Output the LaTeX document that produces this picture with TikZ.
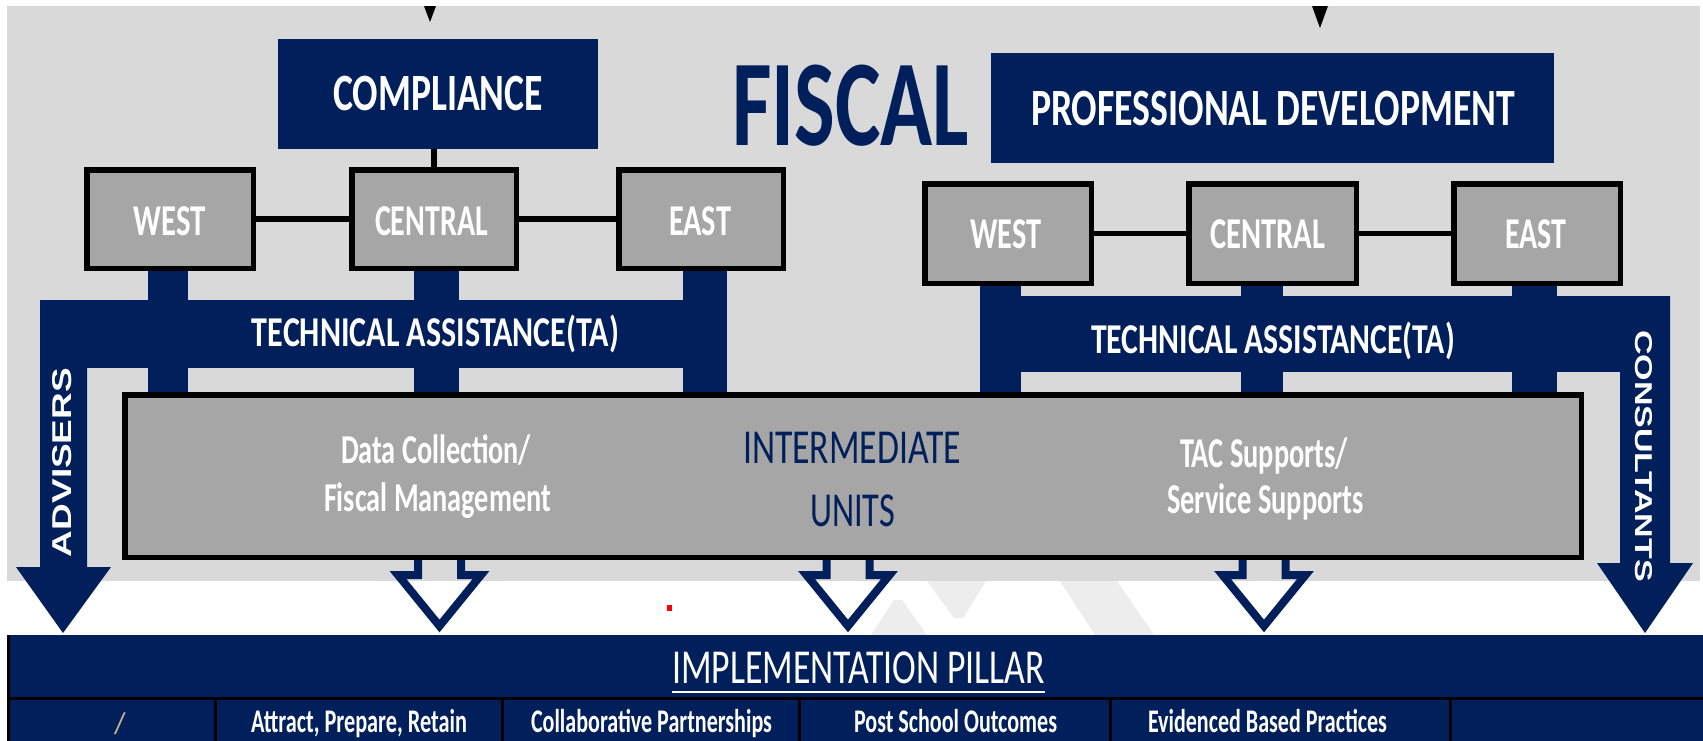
\documentclass[tikz,border=0pt]{standalone}
\usepackage{fontspec}
\setmainfont{Carlito}
\newfontfamily\lsans{Liberation Sans}
\usetikzlibrary{calc}
\definecolor{navy}{RGB}{0,31,91}
\definecolor{bggrey}{RGB}{217,217,217}
\definecolor{boxgrey}{RGB}{166,166,166}
\definecolor{wmgrey}{RGB}{237,237,237}
\definecolor{slashtan}{RGB}{200,180,140}
\newcommand\fitw[2]{\resizebox{#1pt}{\height}{#2}}
\newcommand\fsz[1]{\fontsize{#1}{#1}\selectfont}
\begin{document}
\begin{tikzpicture}[x=1pt,y=-1pt,
  navyblock/.style={fill=navy, draw=none, inner sep=0, outer sep=0},
  regionbox/.style={fill=boxgrey, draw=black, line width=5.5pt, inner sep=0},
  link/.style={draw=black, line width=5.5pt},
  stubline/.style={draw=navy, line width=#1},
  lbl/.style={inner sep=0, anchor=base},
  celltext/.style={lbl, text=white, font=\fsz{33}\bfseries},
  cellbox/.style={fill=navy, draw=black, line width=3pt, inner sep=0, outer sep=0, anchor=north west, minimum height=60pt},
  hollowarrow/.pic={\draw[navy, line width=8pt, line cap=butt, line join=miter]
     (-21.5,0) -- (-21.5,15) -- (-41.5,15) -- (0,66) -- (41.5,15) -- (21.5,15) -- (21.5,0);},
]
\useasboundingbox (0,0) rectangle (1703,740);
\fill[white] (0,0) rectangle (1703,740);
\fill[bggrey] (7,6) rectangle (1700,581);
% watermark
\fill[wmgrey] (871,635) -- (894,600) -- (902,600) -- (927,635) -- cycle;
\fill[wmgrey] (927,581) -- (986,581) -- (963,618) -- (954,618) -- cycle;
\fill[wmgrey] (1060,581) -- (1117,581) -- (1154,635) -- (1095,635) -- cycle;
\fill[red] (667,605) rectangle (672,611);
% top wedges
\fill[black] (424,6) -- (436,6) -- (430,22) -- cycle;
\fill[black] (1312,6) -- (1328,6) -- (1320,28) -- cycle;

% header boxes
\node[navyblock, minimum width=320pt, minimum height=110pt] (compl) at (438,94) {};
\node[navyblock, minimum width=563pt, minimum height=110pt] (pd) at (1272.5,108) {};

% region boxes
\node[regionbox, minimum width=166.5pt, minimum height=98.5pt] (wl) at (170,219) {};
\node[regionbox, minimum width=164.5pt, minimum height=98.5pt] (cl) at (434,219) {};
\node[regionbox, minimum width=164.5pt, minimum height=98.5pt] (el) at (701,219) {};
\node[regionbox, minimum width=166.5pt, minimum height=99.5pt] (wr) at (1008,233.5) {};
\node[regionbox, minimum width=167.5pt, minimum height=99.5pt] (cr) at (1272.5,233.5) {};
\node[regionbox, minimum width=166.5pt, minimum height=99.5pt] (er) at (1537,233.5) {};

% intermediate units box
\node[regionbox, minimum width=1456.5pt, minimum height=162.5pt] (iu) at (853,476) {};

% technical assistance bars
\node[navyblock, minimum width=687pt, minimum height=68pt] (taL) at (383.5,334) {};
\node[navyblock, minimum width=690pt, minimum height=76pt] (taR) at (1325,334) {};

% stubs from regions through TA bars to IU
\draw[stubline=40pt] ([xshift=-2pt]wl.south) -- ([xshift=-2pt]wl.south |- iu.north);
\draw[stubline=45pt] ([xshift=2.5pt]cl.south) -- ([xshift=2.5pt]cl.south |- iu.north);
\draw[stubline=44pt] ([xshift=4pt]el.south) -- ([xshift=4pt]el.south |- iu.north);
\draw[stubline=41pt] ([xshift=-7.5pt]wr.south) -- ([xshift=-7.5pt]wr.south |- iu.north);
\draw[stubline=42pt] ([xshift=-10.5pt]cr.south) -- ([xshift=-10.5pt]cr.south |- iu.north);
\draw[stubline=45pt] ([xshift=-2.5pt]er.south) -- ([xshift=-2.5pt]er.south |- iu.north);

% redraw boxes on top of stubs
\node[regionbox, minimum width=166.5pt, minimum height=98.5pt] at (wl) {};
\node[regionbox, minimum width=164.5pt, minimum height=98.5pt] at (cl) {};
\node[regionbox, minimum width=164.5pt, minimum height=98.5pt] at (el) {};
\node[regionbox, minimum width=166.5pt, minimum height=99.5pt] at (wr) {};
\node[regionbox, minimum width=167.5pt, minimum height=99.5pt] at (cr) {};
\node[regionbox, minimum width=166.5pt, minimum height=99.5pt] at (er) {};
\node[regionbox, minimum width=1456.5pt, minimum height=162.5pt] at (iu) {};

% big solid arrows
\fill[navy] (taL.north west) -- ++(47,0) -- ++(0,267) -- ++(24,0) -- ++(-48,66) -- ++(-47,-66) -- ++(24,0) -- cycle;
\fill[navy] (taR.north east) -- ++(0,267) -- ++(23,0) -- ++(-48,70) -- ++(-48,-70) -- ++(23,0) -- ++(0,-267) -- cycle;

% connectors between boxes
\draw[link] (cl.north) -- (cl.north |- compl.south);
\draw[link] (wl.east) -- (cl.west);
\draw[link] (cl.east) -- (el.west);
\draw[link] (wr.east) -- (cr.west);
\draw[link] (cr.east) -- (er.west);

% hollow arrows
\pic at ([xshift=317.5pt]iu.south west) {hollowarrow};
\pic at ([xshift=726pt]iu.south west) {hollowarrow};
\pic at ([xshift=1142pt]iu.south west) {hollowarrow};

% implementation pillar
\node[navyblock, anchor=north west, minimum width=1703pt, minimum height=63.5pt] (pillar) at (7,635) {};
\node[cellbox, minimum width=208.5pt] (c1) at (8,698.5) {};
\node[cellbox, minimum width=286.5pt] (c2) at (215.5,698.5) {};
\node[cellbox, minimum width=297pt] (c3) at (502,698.5) {};
\node[cellbox, minimum width=311.5pt] (c4) at (799,698.5) {};
\node[cellbox, minimum width=339.5pt] (c5) at (1110.5,698.5) {};
\node[cellbox, minimum width=270pt] (c6) at (1450,698.5) {};
\draw[black, line width=2.5pt] ([xshift=1.25pt]pillar.north west) -- ([xshift=1.25pt]pillar.south west);

% texts
\node[lbl, text=white, font=\fsz{52.4}\bfseries] (tcompl) at (438,110.7) {\fitw{210}{COMPLIANCE}};
\node[lbl, text=white, font=\fsz{52.4}\bfseries] (tpd) at (1273,125) {\fitw{484}{PROFESSIONAL DEVELOPMENT}};
\node[lbl, text=navy, font=\fsz{122.8}\bfseries] (tfiscal) at (850.5,145) {\fitw{237}{FISCAL}};

\node[lbl, text=white, font=\fsz{44}\bfseries] (twl) at (170,235) {\fitw{72}{WEST}};
\node[lbl, text=white, font=\fsz{44}\bfseries] (tcl) at (431.5,235) {\fitw{113}{CENTRAL}};
\node[lbl, text=white, font=\fsz{44}\bfseries] (tel) at (700,235) {\fitw{62}{EAST}};
\node[lbl, text=white, font=\fsz{44}\bfseries] (twr) at (1006,248) {\fitw{71}{WEST}};
\node[lbl, text=white, font=\fsz{44}\bfseries] (tcr) at (1267.5,248) {\fitw{115}{CENTRAL}};
\node[lbl, text=white, font=\fsz{44}\bfseries] (ter) at (1536,248) {\fitw{61}{EAST}};

\node[lbl, text=white, font=\fsz{42.5}\bfseries] (ttaL) at (435.5,346.7) {\fitw{367}{TECHNICAL ASSISTANCE(TA)}};
\node[lbl, text=white, font=\fsz{42.5}\bfseries] (ttaR) at (1273,353) {\fitw{364}{TECHNICAL ASSISTANCE(TA)}};

\node[lbl, text=white, font=\fsz{41}\bfseries] (tdc1) at (436,463) {\fitw{190}{Data Collection/}};
\node[lbl, text=white, font=\fsz{41}\bfseries] (tdc2) at (437.5,511.7) {\fitw{227}{Fiscal Management}};
\node[lbl, text=navy, font=\fsz{48.8}] (tiu1) at (852,463) {\fitw{218}{INTERMEDIATE}};
\node[lbl, text=navy, font=\fsz{48.8}] (tiu2) at (852.5,526) {\fitw{85}{UNITS}};
\node[lbl, text=white, font=\fsz{42.5}\bfseries] (ttac1) at (1264,467) {\fitw{168}{TAC Supports/}};
\node[lbl, text=white, font=\fsz{42.5}\bfseries] (ttac2) at (1265.5,513) {\fitw{197}{Service Supports}};

\node[text=white, inner sep=0, rotate=90] (tadv) at (62.5,462.5) {\resizebox{189pt}{19pt}{\lsans\bfseries ADVISERS}};
\node[text=white, inner sep=0, rotate=-90] (tcons) at (1644,456) {\resizebox{252pt}{17pt}{\lsans\bfseries CONSULTANTS}};

\node[lbl, text=white, font=\fsz{48.8}] (timpl) at (858.5,683) {\fitw{373}{IMPLEMENTATION PILLAR}};
\draw[white, line width=2.5pt] ([yshift=-9pt]timpl.base west) -- ([yshift=-9pt]timpl.base east);

\node[lbl, text=slashtan, font=\fsz{30}] (tslash) at (120,733) {/};
\node[celltext] (tc2) at (359,732) {\fitw{216}{Attract, Prepare, Retain}};
\node[celltext] (tc3) at (651.5,732) {\fitw{241}{Collaborative Partnerships}};
\node[celltext] (tc4) at (955.5,732) {\fitw{203}{Post School Outcomes}};
\node[celltext] (tc5) at (1267.5,732) {\fitw{239}{Evidenced Based Practices}};
\end{tikzpicture}
\end{document}
